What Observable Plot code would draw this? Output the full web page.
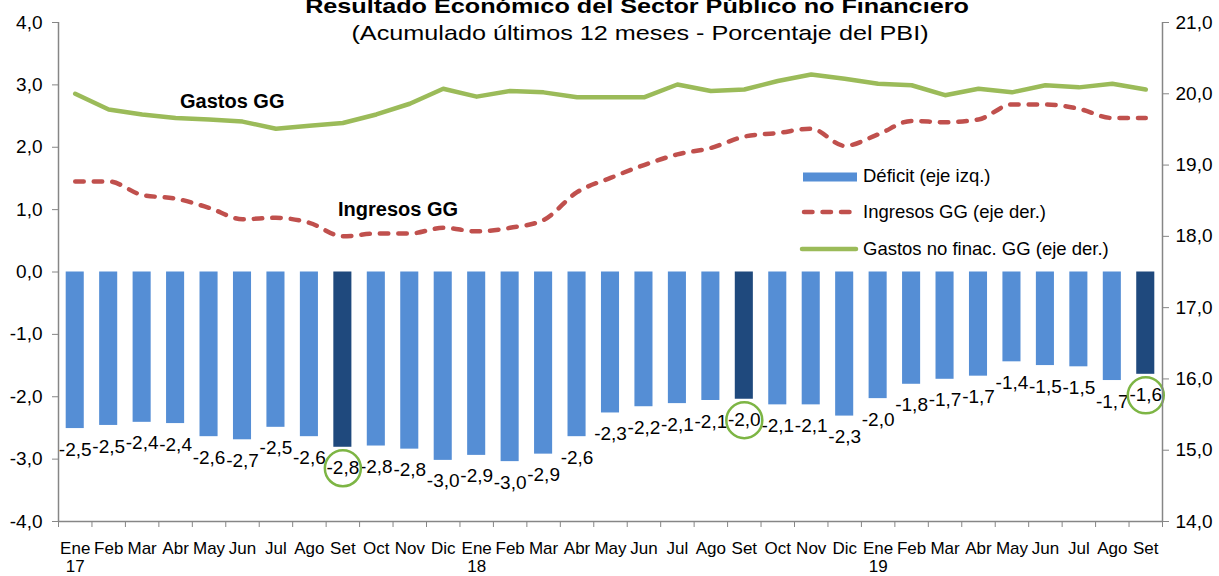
<!DOCTYPE html>
<html><head><meta charset="utf-8">
<script src="https://cdn.jsdelivr.net/npm/d3@7"></script>
<script src="https://cdn.jsdelivr.net/npm/@observablehq/plot@0.6"></script>
<style>
body{margin:0;background:#fff;font-family:"Liberation Sans",Arial,sans-serif;}
#wrap{position:relative;width:1219px;height:576px;overflow:hidden;background:#fff;}
#wrap svg{position:absolute;left:0;top:0;}
.abs{position:absolute;white-space:nowrap;color:#000;}
</style></head><body>
<div id="wrap"></div>
<script>
// ---- data ----
const months = ["Ene\n17","Feb","Mar","Abr","May","Jun","Jul","Ago","Set","Oct","Nov","Dic",
  "Ene\n18","Feb","Mar","Abr","May","Jun","Jul","Ago","Set","Oct","Nov","Dic",
  "Ene\n19","Feb","Mar","Abr","May","Jun","Jul","Ago","Set"];
const deficit = [-2.51,-2.46,-2.41,-2.43,-2.64,-2.69,-2.49,-2.64,-2.81,-2.79,-2.84,-3.02,
  -2.94,-3.04,-2.92,-2.64,-2.26,-2.16,-2.11,-2.06,-2.04,-2.13,-2.13,-2.31,
  -2.03,-1.80,-1.72,-1.67,-1.44,-1.50,-1.52,-1.74,-1.64];
const ingresos = [18.77,18.77,18.58,18.53,18.40,18.24,18.26,18.19,18.00,18.04,18.04,18.12,
  18.07,18.12,18.23,18.62,18.82,19.00,19.15,19.24,19.40,19.45,19.51,19.27,
  19.43,19.62,19.60,19.64,19.85,19.85,19.79,19.66,19.66];
const gastos = [20.00,19.78,19.71,19.66,19.64,19.61,19.51,19.55,19.59,19.71,19.86,20.07,
  19.96,20.04,20.02,19.95,19.95,19.95,20.13,20.04,20.06,20.18,20.27,20.21,
  20.14,20.12,19.98,20.07,20.02,20.12,20.09,20.14,20.06];
const leftTicks = [-4,-3,-2,-1,0,1,2,3,4];
const rightTicks = [14,15,16,17,18,19,20,21];

// ---- helpers ----
const fmt = v => (Math.abs(v) < 1e-9 ? 0 : v).toFixed(1).replace(".", ",");
const toLeft = v => (v - 14) * 8 / 7 - 4;      // right axis [14,21] -> left axis [-4,4]
const fromLeft = L => (L + 4) * 7 / 8 + 14;
const data = months.map((m, i) => ({i, month: m.split("\n")[0], deficit: deficit[i], ingresos: ingresos[i], gastos: gastos[i]}));
const setData = data.filter(d => d.month === "Set");
const gray = "#868686";
const FONT = "'Liberation Sans', Arial, sans-serif";

const chart = Plot.plot({
  width: 1219, height: 576,
  marginLeft: 58, marginRight: 57, marginTop: 22, marginBottom: 55,
  style: {fontFamily: FONT, color: "#000", background: "transparent", overflow: "visible"},
  x: {domain: [-0.5, 32.5], axis: null, label: null},
  y: {domain: [-4, 4], axis: null, label: null},
  marks: [
    Plot.rect(data, {x1: d => d.i - 0.27, x2: d => d.i + 0.27, y1: 0, y2: "deficit",
      fill: d => d.month === "Set" ? "#1F497D" : "#558ED5"}),
    Plot.line(data, {x: "i", y: d => toLeft(d.gastos), stroke: "#9BBB59", strokeWidth: 4.5}),
    Plot.line(data, {x: "i", y: d => toLeft(d.ingresos), stroke: "#C0504D", strokeWidth: 4.5,
      strokeDasharray: "8.5,10", strokeLinecap: "round", curve: "monotone-x"}),
    Plot.text(data, {x: "i", y: "deficit", dy: 21, text: d => fmt(d.deficit), fontSize: 19, fill: "#000"}),
    Plot.dot(setData, {x: "i", y: "deficit", dy: 21, r: 18, stroke: "#7DB544", strokeWidth: 2.5, fill: "none"}),
    Plot.ruleX([-0.5, 32.5], {stroke: gray, strokeWidth: 1.5}),
    Plot.ruleY([-4], {stroke: gray, strokeWidth: 1.5}),
    Plot.axisY({ticks: leftTicks, tickFormat: fmt, tickSize: 6, tickPadding: 10, fontSize: 19,
      stroke: gray, fill: "#000", label: null}),
    Plot.axisY({anchor: "right", ticks: rightTicks.map(toLeft), tickFormat: d => fmt(fromLeft(d)),
      tickSize: 6, tickPadding: 7, fontSize: 19, stroke: gray, fill: "#000", label: null}),
    Plot.axisX({ticks: d3.range(-0.5, 33, 1), tickFormat: () => "", tickSize: 6, stroke: gray, label: null}),
    Plot.text(months, {x: (d, i) => i, frameAnchor: "bottom", dy: 19, lineAnchor: "top",
      text: d => d, fontSize: 17, lineHeight: 1.1, fill: "#000"})
  ]
});

const wrap = document.getElementById("wrap");
wrap.appendChild(chart);

function addText(txt, left, top, size, opts = {}) {
  const d = document.createElement("div");
  d.className = "abs";
  d.textContent = txt;
  d.style.left = left + "px";
  d.style.top = top + "px";
  d.style.fontSize = size + "px";
  d.style.lineHeight = size + "px";
  if (opts.bold) d.style.fontWeight = "bold";
  if (opts.transform) d.style.transform = opts.transform;
  wrap.appendChild(d);
  return d;
}
// Title & subtitle
addText("Resultado Económico del Sector Público no Financiero", 637, -5, 21, {bold: true, transform: "translateX(-50%) scaleX(1.2)"});
addText("(Acumulado últimos 12 meses - Porcentaje del PBI)", 640, 22, 21, {transform: "translateX(-50%) scaleX(1.2)"});
// Annotations
addText("Gastos GG", 180, 91, 20, {bold: true});
addText("Ingresos GG", 338, 199, 20, {bold: true});

// Legend
const legend = [
  {label: "Déficit (eje izq.)", y: 176.5, kind: "bar"},
  {label: "Ingresos GG (eje der.)", y: 212, kind: "dash"},
  {label: "Gastos no finac. GG (eje der.)", y: 249, kind: "line"}
];
legend.forEach(it => {
  const s = document.createElementNS("http://www.w3.org/2000/svg", "svg");
  s.setAttribute("width", 60); s.setAttribute("height", 12);
  s.style.position = "absolute"; s.style.left = "799px"; s.style.top = (it.y - 6) + "px";
  if (it.kind === "bar") {
    s.innerHTML = '<rect x="4" y="1.5" width="54" height="9" fill="#558ED5"/>';
  } else if (it.kind === "dash") {
    s.innerHTML = '<line x1="5" x2="54" y1="6" y2="6" stroke="#C0504D" stroke-width="4.5" stroke-linecap="round" stroke-dasharray="8.5,10"/>';
  } else {
    s.innerHTML = '<line x1="3" x2="57" y1="6" y2="6" stroke="#9BBB59" stroke-width="4.5" stroke-linecap="round"/>';
  }
  wrap.appendChild(s);
  addText(it.label, 863, it.y - 9.3, 18.5);
});
</script>
</body></html>
